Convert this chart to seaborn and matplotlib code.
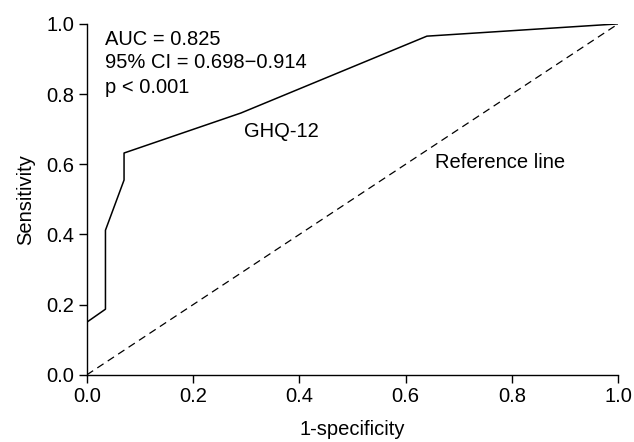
import pandas as pd
import matplotlib
matplotlib.use("Agg")
import matplotlib.pyplot as plt
import seaborn as sns

# ROC curve for GHQ-12
fpr = [0.0, 0.0, 0.035, 0.035, 0.07, 0.07, 0.29, 0.64, 1.0]
tpr = [0.0, 0.15, 0.187, 0.412, 0.555, 0.632, 0.746, 0.965, 1.0]
ref_x = [0.0, 1.0]
ref_y = [0.0, 1.0]
ticks = [0.0, 0.2, 0.4, 0.6, 0.8, 1.0]

sns.set_style("ticks")
plt.rcParams["font.family"] = ["Liberation Sans", "DejaVu Sans"]
plt.rcParams["text.color"] = "black"
plt.rcParams["axes.labelcolor"] = "black"
plt.rcParams["xtick.color"] = "black"
plt.rcParams["ytick.color"] = "black"

fs = 14.5

fig = plt.figure(figsize=(6.34, 4.42), dpi=100)
ax = fig.add_axes([0.137, 0.152, 0.838, 0.794])

df = pd.DataFrame({"fpr": fpr, "tpr": tpr})
sns.lineplot(data=df, x="fpr", y="tpr", sort=False, estimator=None,
             color="black", linewidth=1.1, ax=ax)
sns.lineplot(x=ref_x, y=ref_y, color="black", linewidth=0.9,
             linestyle=(0, (6, 4)), ax=ax)

ax.set_xlim(0, 1)
ax.set_ylim(0, 1)
ax.set_xticks(ticks)
ax.set_yticks(ticks)
ax.set_xticklabels([f"{t:.1f}" for t in ticks])
ax.set_yticklabels([f"{t:.1f}" for t in ticks])
ax.tick_params(direction="out", length=6, width=1, colors="black",
               labelsize=fs, pad=3)
sns.despine(ax=ax)
for s in ["left", "bottom"]:
    ax.spines[s].set_color("black")
    ax.spines[s].set_linewidth(1)

ax.set_xlabel("1-specificity", fontsize=fs, labelpad=10)
ax.set_ylabel("Sensitivity", fontsize=fs, labelpad=8)

ax.text(0.034, 0.955, "AUC = 0.825", fontsize=fs, va="center")
ax.text(0.034, 0.89, "95% CI = 0.698\u22120.914", fontsize=fs, va="center")
ax.text(0.034, 0.82, "p < 0.001", fontsize=fs, va="center")
ax.text(0.296, 0.692, "GHQ-12", fontsize=fs, va="center")
ax.text(0.655, 0.604, "Reference line", fontsize=fs, va="center")

fig.savefig("out.png", dpi=100)
